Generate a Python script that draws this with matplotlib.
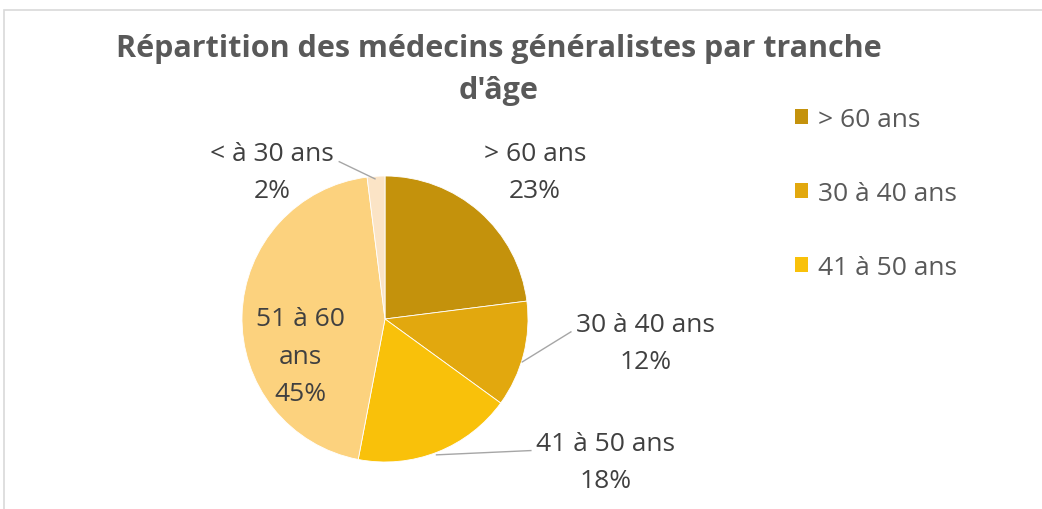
import numpy as np
import matplotlib
matplotlib.use("Agg")
import matplotlib.pyplot as plt
from matplotlib.patches import Patch, Rectangle

plt.rcParams['font.family'] = ['Open Sans', 'DejaVu Sans']

labels = ['> 60 ans', '30 à 40 ans', '41 à 50 ans', '51 à 60 ans', '< à 30 ans']
values = [23, 12, 18, 45, 2]
colors = ['#C4920C', '#E2A80E', '#F9C10A', '#FCD27E', '#FBE4C6']
text_labels = ['> 60 ans\n23%', '30 à 40 ans\n12%', '41 à 50 ans\n18%',
               '51 à 60\nans\n45%', '< à 30 ans\n2%']
grey = '#595959'
dark = '#404040'

fig = plt.figure(figsize=(10.42, 5.10), dpi=100)

# chart frame (only top and left edges visible in the reference)
fig.add_artist(Rectangle((4 / 1042, -0.1), 1.1, (510 - 11) / 510 + 0.1,
                         transform=fig.transFigure, fill=False,
                         edgecolor='#D9D9D9', linewidth=1.2))

cx, cy, r = 385, 510 - 320, 143
ax = fig.add_axes([(cx - r) / 1042, (cy - r) / 510, 2 * r / 1042, 2 * r / 510])
wedges, _ = ax.pie(values, colors=colors, startangle=90, counterclock=False,
                   radius=1, wedgeprops=dict(edgecolor='#FFFFFF', linewidth=0.6))
ax.set_xlim(-1, 1)
ax.set_ylim(-1, 1)
ax.set_aspect('equal')
ax.axis('off')

# label positions in pie units (radius = 1)
label_pos = [(1.05, 1.03), (1.82, -0.17), (1.54, -1.0), (-0.59, -0.26), (-0.79, 1.03)]
leaders = [None, ((0.96, -0.3), (1.3, -0.09)), ((0.36, -0.95), (1.02, -0.92)),
           None, ((-0.07, 0.98), (-0.32, 1.1))]

for i, txt in enumerate(text_labels):
    x, y = label_pos[i]
    ax.text(x, y, txt, ha='center', va='center', fontsize=19, color=dark,
            linespacing=1.65, clip_on=False)
    if leaders[i] is not None:
        (x0, y0), (x1, y1) = leaders[i]
        ax.plot([x0, x1], [y0, y1], color='#A6A6A6', linewidth=1, clip_on=False)

fig.text(499 / 1042, 1 - 70 / 510, "Répartition des médecins généralistes par tranche\nd'âge",
         ha='center', va='center', fontsize=22, fontweight='bold', color=grey,
         linespacing=1.55)

handles = [Patch(facecolor=colors[i], edgecolor='none') for i in range(3)]
leg = fig.legend(handles, labels[:3], loc='upper left', bbox_to_anchor=(771 / 1042, 1 - 84 / 510),
                 frameon=False, fontsize=19, labelspacing=1.86, handlelength=0.5,
                 handleheight=0.5, handletextpad=0.38, labelcolor=grey)

fig.savefig('out.png', dpi=100, facecolor='white')
